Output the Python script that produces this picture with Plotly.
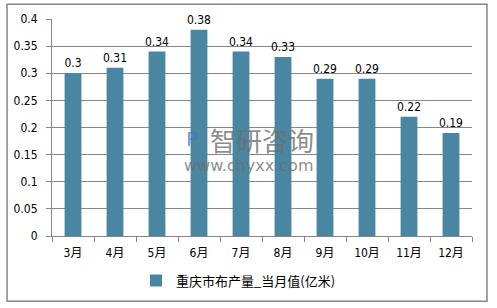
import plotly.graph_objects as go

months = ["3月", "4月", "5月", "6月", "7月", "8月", "9月", "10月", "11月", "12月"]
values = [0.30, 0.31, 0.34, 0.38, 0.34, 0.33, 0.29, 0.29, 0.22, 0.19]
labels = ["0.3", "0.31", "0.34", "0.38", "0.34", "0.33", "0.29", "0.29", "0.22", "0.19"]
series_name = "重庆市布产量_当月值(亿米)"

FONT = "DejaVu Sans Condensed, Liberation Sans, Noto Sans CJK SC, sans-serif"
WM = "rgba(110,110,110,0.8)"

fig = go.Figure()
fig.add_trace(go.Bar(
    x=months, y=values, name=series_name,
    text=labels, textposition="outside", cliponaxis=False, constraintext="none",
    textfont=dict(size=12, color="#000000", family=FONT),
    marker=dict(color="#4886a1", line=dict(width=0)),
    width=0.4, showlegend=True,
))

fig.update_layout(
    width=497, height=308,
    margin=dict(l=52, r=25, t=19, b=70),
    paper_bgcolor="white", plot_bgcolor="white",
    font=dict(family=FONT, size=12, color="#000000"),
    showlegend=True,
    legend=dict(orientation="h", x=0.2, xanchor="left", y=-0.205, yanchor="middle",
                font=dict(size=13, family="Noto Sans CJK SC, sans-serif"),
                itemwidth=30, bgcolor="rgba(0,0,0,0)"),
    xaxis=dict(showline=True, linecolor="#868686", linewidth=1,
               ticks="outside", ticklen=5, tickcolor="#868686", tickson="boundaries",
               ticklabelstandoff=6, tickfont=dict(size=12), showgrid=False),
    yaxis=dict(range=[0, 0.4], dtick=0.05, showline=True, linecolor="#868686", linewidth=1,
               ticks="outside", ticklen=5, tickcolor="#868686", ticklabelstandoff=6,
               showgrid=True, gridcolor="#868686", gridwidth=1,
               tickfont=dict(size=12), zeroline=False),
    shapes=[dict(type="rect", xref="paper", yref="paper",
                 x0=-0.107, x1=1.0357, y0=-0.301, y1=1.0685,
                 line=dict(color="#868686", width=1.5), fillcolor="rgba(0,0,0,0)")],
    annotations=[
        dict(text="智研咨询", xref="paper", yref="paper", x=0.5, y=0.447,
             xanchor="center", yanchor="middle", showarrow=False,
             font=dict(size=26, color=WM, family="Noto Sans CJK SC")),
        dict(text="www.chyxx.com", xref="paper", yref="paper", x=0.469, y=0.324,
             xanchor="center", yanchor="middle", showarrow=False,
             font=dict(size=16, color=WM, family="DejaVu Sans")),
        dict(text="P", xref="paper", yref="paper", x=0.333, y=0.447,
             xanchor="center", yanchor="middle", showarrow=False,
             font=dict(size=20, color="rgba(70,120,190,0.75)", family="DejaVu Sans")),
    ],
)

fig.write_html("out.html")
